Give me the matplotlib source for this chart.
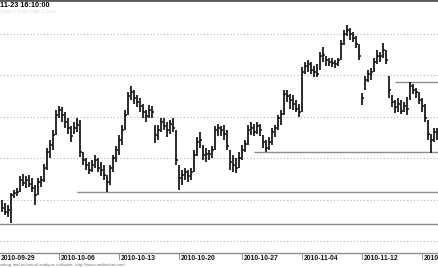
import matplotlib

matplotlib.use("Agg")
import matplotlib.pyplot as plt
from matplotlib.transforms import blended_transform_factory, offset_copy

plt.rcParams["font.family"] = ["Liberation Sans", "DejaVu Sans"]

# price bars (one per bar index 1..146)
high = [840, 837, 835, 846, 849, 851, 863, 865, 863, 864, 861, 854, 861, 863, 874, 890, 898, 907, 927, 930,
        929, 925, 919, 911, 915, 919, 917, 886, 880, 876, 878, 883, 880, 876, 873, 864, 873, 883, 892, 902,
        912, 927, 944, 950, 946, 941, 938, 932, 927, 931, 930, 912, 912, 919, 919, 915, 917, 919, 907, 873,
        869, 871, 869, 871, 888, 900, 905, 893, 890, 888, 892, 911, 913, 911, 912, 907, 888, 883, 880, 886,
        893, 898, 912, 915, 913, 915, 913, 902, 898, 900, 909, 912, 922, 927, 946, 946, 942, 941, 936, 932,
        968, 973, 975, 973, 969, 971, 983, 987, 979, 977, 977, 975, 977, 994, 1004, 1009, 1006, 1002, 998, 990,
        943, 959, 965, 967, 977, 985, 983, 991, 985, 959, 941, 936, 938, 936, 934, 939, 954, 952, 948, 944,
        938, 932, 917, 903, 909, 909]
low = [828, 825, 823, 817, 842, 843, 847, 853, 851, 852, 847, 835, 844, 852, 857, 869, 880, 888, 902, 919,
       915, 909, 903, 896, 903, 905, 881, 873, 869, 865, 867, 871, 867, 863, 859, 847, 854, 867, 876, 883,
       893, 907, 922, 936, 932, 929, 925, 919, 915, 919, 919, 895, 898, 905, 907, 900, 903, 905, 873, 849,
       854, 859, 857, 859, 867, 882, 890, 878, 876, 878, 880, 888, 901, 901, 898, 888, 869, 867, 866, 871,
       878, 886, 893, 902, 901, 903, 901, 890, 886, 888, 893, 900, 907, 912, 922, 934, 928, 927, 925, 920,
       925, 961, 963, 961, 958, 958, 965, 973, 969, 969, 968, 967, 969, 975, 989, 998, 994, 992, 986, 975,
       931, 946, 954, 956, 963, 971, 973, 977, 971, 938, 929, 924, 925, 923, 925, 922, 936, 942, 938, 932,
       925, 915, 898, 885, 896, 898]
close = [832, 828, 830, 844, 846, 847, 859, 856, 859, 855, 851, 844, 857, 859, 871, 886, 893, 902, 922, 927,
         922, 915, 909, 901, 909, 912, 886, 878, 873, 869, 873, 878, 871, 869, 864, 857, 871, 880, 888, 898,
         907, 922, 940, 944, 938, 934, 930, 925, 921, 927, 925, 902, 907, 915, 911, 907, 913, 909, 878, 861,
         864, 867, 863, 867, 883, 896, 898, 883, 884, 884, 888, 907, 909, 907, 903, 892, 876, 873, 871, 880,
         888, 894, 907, 909, 905, 911, 907, 896, 890, 896, 905, 909, 919, 923, 942, 940, 936, 932, 928, 925,
         963, 969, 971, 965, 963, 961, 979, 980, 975, 973, 972, 971, 975, 990, 1000, 1004, 1000, 996, 990, 979,
         938, 956, 961, 963, 973, 979, 979, 985, 975, 946, 934, 929, 932, 926, 930, 928, 950, 946, 944, 936,
         930, 919, 903, 898, 905, 903]
bar_idx = list(range(1, len(close) + 1))

# horizontal study lines: (level, first bar)
level_lines = [(816, 0), (847, 26), (886, 85), (954, 132)]
grid_levels = [1000, 960, 920, 880, 840, 800]

date_ticks = [0, 20, 40, 60, 81, 101, 121, 141]
date_labels = ["2010-09-29", "2010-10-06", "2010-10-13", "2010-10-20",
               "2010-10-27", "2010-11-04", "2010-11-12", "2010-11-19"]

fig = plt.figure(figsize=(4.39, 2.68), dpi=100)
ax = fig.add_axes([0, 15 / 268, 1, 253 / 268])
ax.set_xlim(1 / 3, 440 / 3)
ax.set_ylim(788.4, 1032.85)

for g in grid_levels:
    ax.axhline(g, color="#b4b4b4", lw=0.8, ls=(0, (1, 2)), zorder=1)
for lvl, start in level_lines:
    ax.hlines(lvl, start, 150, color="#8c8c8c", lw=1.0, zorder=2)

ax.vlines(bar_idx, low, high, color="#111111", lw=1.25, zorder=3)
ax.hlines(close, bar_idx, [i + 0.55 for i in bar_idx], color="#111111", lw=1.1, zorder=3)

ax.set_xticks([])
ax.set_yticks([])
for side in ("left", "right"):
    ax.spines[side].set_visible(False)
ax.spines["top"].set_color("#5a5a5a")
ax.spines["top"].set_linewidth(2)
ax.spines["bottom"].set_color("#8c8c8c")
ax.spines["bottom"].set_linewidth(1)

trans = blended_transform_factory(ax.transData, ax.transAxes)
for t, lab in zip(date_ticks, date_labels):
    ax.plot([t, t], [0, -0.025], color="#8c8c8c", lw=0.7, transform=trans, clip_on=False)
    ax.text(t, -0.008, lab, transform=offset_copy(trans, fig=fig, x=1.5, y=0, units="dots"),
            ha="left", va="top", fontsize=4.9, fontweight="bold", color="#111111", clip_on=False)

fig.text(-0.012, 0.005, "Charting and technical analysis software. http://www.amibroker.com",
         fontsize=3.2, color="#777777", ha="left", va="bottom")
fig.text(0.0, 0.992, "11-23 16:10:00", fontsize=5.2, fontweight="bold", color="black", ha="left", va="top")
fig.text(0.0, 0.965, "Open 1.3xxx, High 1.3xxx", fontsize=3.5, color="#dddddd", ha="left", va="top")

fig.savefig("out.png", dpi=100)
